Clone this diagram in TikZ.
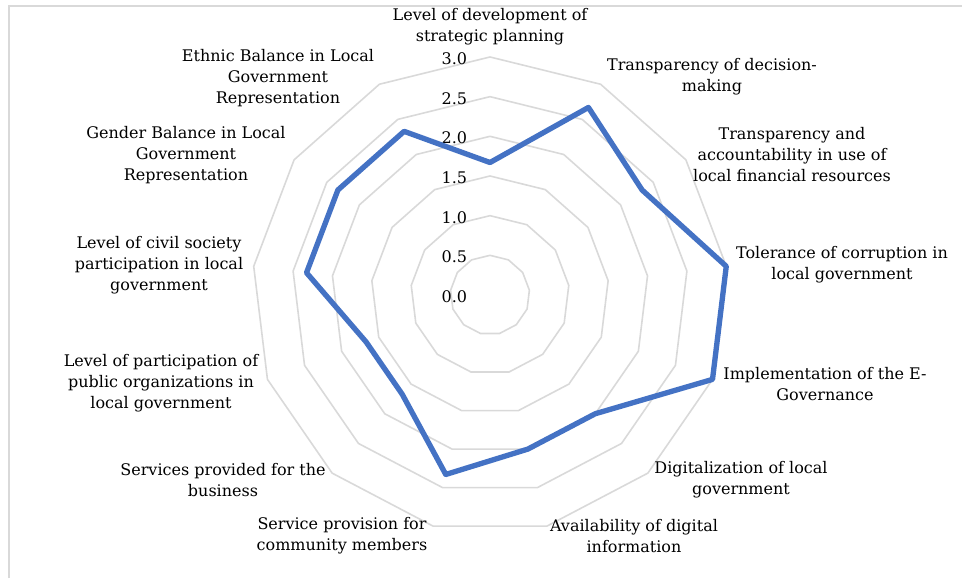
\documentclass[tikz,border=0pt]{standalone}
\usepackage{fontspec}
\setmainfont{DejaVu Serif}
\usepackage{xcolor}
\usetikzlibrary{positioning}
\definecolor{gridgray}{HTML}{D9D9D9}
\definecolor{seriesblue}{HTML}{4472C4}

\begin{document}
\begin{tikzpicture}[x=0.75pt, y=0.75pt, node distance = 17pt, font=\fontsize{12}{15.75}\selectfont]
            \tikzstyle{ring} = [draw=gridgray, line width=1.2pt, line join=round];
            \tikzstyle{tick} = [inner sep=0pt, yshift=-1.2pt];
            \tikzstyle{category} = [align=center, inner sep=0pt, yshift=-1.2pt];
            \tikzstyle{series} = [draw=seriesblue, line width=4pt, line join=round];
            \useasboundingbox (-490,-283) rectangle (472,295);
            \draw [gridgray, line width=1.5pt] (-480.5,-283) -- (-480.5,289) -- (472,289);

            % grid rings, one every 0.5
            \foreach \r in {1,...,6}
                \draw [ring] (90:{\r*39.67}) \foreach \k in {1,...,12} { -- ({90-\k*360/13}:{\r*39.67}) } -- cycle;

            \foreach \r/\t in {0/0.0, 1/0.5, 2/1.0, 3/1.5, 4/2.0, 5/2.5, 6/3.0} {
                \coordinate (g\r) at (0,{\r*39.67});
                \node [tick, left = of g\r] (t\r) {\t};
            }

            % series
            \foreach \v [count=\i] in {1.67, 2.67, 2.33, 3, 3, 2, 2, 2.33, 1.67, 1.67, 2.33, 2.33, 2.33}
                \coordinate (p\i) at ({90-(\i-1)*360/13}:{\v*79.33});
            \draw [series] (p1) \foreach \i in {2,...,13} { -- (p\i) } -- cycle;

            \node [category] (plan) at (0,270) {Level of development of\\strategic planning};
            \node [category] (decision) at (222,220) {Transparency of decision-\\making};
            \node [category] (finance) at (302,142) {Transparency and\\accountability in use of\\local financial resources};
            \node [category] (corruption) at (352,32) {Tolerance of corruption in\\local government};
            \node [category] (egov) at (335,-87) {Implementation of the E-\\Governance};
            \node [category] (digital) at (251,-183) {Digitalization of local\\government};
            \node [category] (info) at (144,-239) {Availability of digital\\information};
            \node [category] (community) at (-148,-239) {Service provision for\\community members};
            \node [category] (business) at (-267,-183) {Services provided for the\\business};
            \node [category] (publicorg) at (-329,-87) {Level of participation of\\public organizations in\\local government};
            \node [category] (civil) at (-331,31) {Level of civil society\\participation in local\\government};
            \node [category] (gender) at (-304,142) {Gender Balance in Local\\Government\\Representation};
            \node [category] (ethnic) at (-212,219) {Ethnic Balance in Local\\Government\\Representation};
        \end{tikzpicture}
\end{document}
